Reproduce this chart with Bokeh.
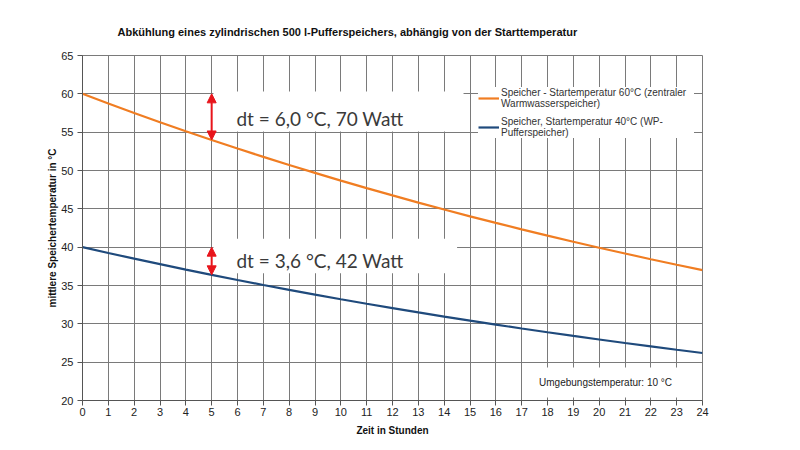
from bokeh.plotting import figure
from bokeh.models import Range1d, FixedTicker, Label, Arrow, NormalHead, Legend, LegendItem
from bokeh.embed import file_html
from bokeh.resources import INLINE

# --- data ---
hours = [0, 1, 2, 3, 4, 5, 6, 7, 8, 9, 10, 11, 12, 13, 14, 15, 16, 17, 18, 19, 20, 21, 22, 23, 24]
temp_start60 = [60.00, 58.73, 57.50, 56.29, 55.12, 53.98, 52.86, 51.78, 50.72, 49.69, 48.68, 47.70,
                46.75, 45.81, 44.91, 44.02, 43.16, 42.32, 41.50, 40.70, 39.93, 39.17, 38.43, 37.71, 37.01]
temp_start40 = [40.00, 39.24, 38.50, 37.78, 37.07, 36.39, 35.72, 35.07, 34.43, 33.81, 33.21, 32.62,
                32.05, 31.49, 30.94, 30.41, 29.90, 29.39, 28.90, 28.42, 27.96, 27.50, 27.06, 26.62, 26.20]
x_ticks = [0, 1, 2, 3, 4, 5, 6, 7, 8, 9, 10, 11, 12, 13, 14, 15, 16, 17, 18, 19, 20, 21, 22, 23, 24]
y_ticks = [20, 25, 30, 35, 40, 45, 50, 55, 60, 65]
series_names = ["Speicher - Startemperatur 60°C (zentraler\nWarmwasserspeicher)",
                "Speicher, Startemperatur 40°C (WP-\nPufferspeicher)"]
arrow_hour = 5
note_60 = "dt = 6,0 °C, 70 Watt"
note_40 = "dt = 3,6 °C, 42 Watt"
ambient_note = "Umgebungstemperatur:  10 °C"

title_text = "Abkühlung eines zylindrischen 500 l-Pufferspeichers, abhängig von der Starttemperatur"

ORANGE = "#F07D22"
BLUE = "#1F4A7C"
GRID = "#7a7a7a"
FONT = "Liberation Sans"

p = figure(width=792, height=442, output_backend="svg", toolbar_location=None,
           x_range=Range1d(0, 24), y_range=Range1d(20, 65),
           min_border_left=82, min_border_right=90, min_border_top=55, min_border_bottom=42,
           background_fill_color="white", border_fill_color="white")

p.title.text = title_text
p.title.align = "left"
p.title.offset = 35
p.title.standoff = 36
p.title.text_font = FONT
p.title.text_font_size = "11px"
p.title.text_font_style = "bold"
p.title.text_color = "#111111"

p.outline_line_color = GRID
for g in (p.xgrid, p.ygrid):
    g.grid_line_color = GRID
    g.grid_line_width = 1
p.xgrid.ticker = FixedTicker(ticks=x_ticks)
p.ygrid.ticker = FixedTicker(ticks=y_ticks)

for ax in (p.xaxis, p.yaxis):
    ax.axis_line_color = "#555555"
    ax.major_tick_line_color = "#555555"
    ax.major_tick_out = 5
    ax.major_tick_in = 0
    ax.minor_tick_line_color = None
    ax.major_label_text_font = FONT
    ax.major_label_text_font_size = "11px"
    ax.major_label_text_color = "#222222"
    ax.axis_label_text_font = FONT
    ax.axis_label_text_font_size = "10px"
    ax.axis_label_text_font_style = "bold"
    ax.axis_label_text_color = "#111111"
p.xaxis.ticker = FixedTicker(ticks=x_ticks)
p.yaxis.ticker = FixedTicker(ticks=y_ticks)
p.xaxis.axis_label = "Zeit in Stunden"
p.yaxis.axis_label = "mittlere Speichertemperatur in °C"
p.xaxis.major_label_standoff = 2
p.yaxis.major_label_standoff = 4
p.xaxis.axis_label_standoff = 6
p.yaxis.axis_label_standoff = 0

# white boxes behind the texts (they hide the grid)
p.quad(left=5.07, right=14.75, bottom=55.1, top=60.3, fill_color="white", line_color=None)
p.quad(left=5.07, right=14.5, bottom=36.6, top=41.1, fill_color="white", line_color=None)
p.quad(left=17.4, right=23.9, bottom=20.4, top=24.3, fill_color="white", line_color=None)

r60 = p.line(hours, temp_start60, line_color=ORANGE, line_width=2.2)
r40 = p.line(hours, temp_start40, line_color=BLUE, line_width=2.2)

legend = Legend(items=[LegendItem(label=series_names[0], renderers=[r60]),
                       LegendItem(label=series_names[1], renderers=[r40])],
                location=(396, 262), background_fill_color="white", background_fill_alpha=1,
                border_line_color=None, label_text_font=FONT, label_text_font_size="10px",
                label_text_color="#333333", glyph_width=21, glyph_height=10, label_standoff=2,
                padding=6, spacing=7, margin=0, label_width=193, label_text_line_height=1.1)
p.add_layout(legend, "center")

# red double arrows
for series in (temp_start60, temp_start40):
    p.add_layout(Arrow(start=NormalHead(size=9, fill_color="#E8141B", line_color="#E8141B"),
                       end=NormalHead(size=9, fill_color="#E8141B", line_color="#E8141B"),
                       x_start=hours[arrow_hour], y_start=series[0],
                       x_end=hours[arrow_hour], y_end=series[arrow_hour],
                       line_color="#E8141B", line_width=2))

for txt, y in ((note_60, 56.8), (note_40, 38.2)):
    p.add_layout(Label(x=5.96, y=y, text=txt, text_font="Lato", text_font_size="19px",
                       text_color="#3a3a3a", text_baseline="middle", text_align="left"))

p.add_layout(Label(x=20.3, y=22.35, text=ambient_note, text_font=FONT, text_font_size="10px",
                   text_color="#222222", text_baseline="middle", text_align="center"))

open("out.html", "w").write(file_html(p, INLINE))
